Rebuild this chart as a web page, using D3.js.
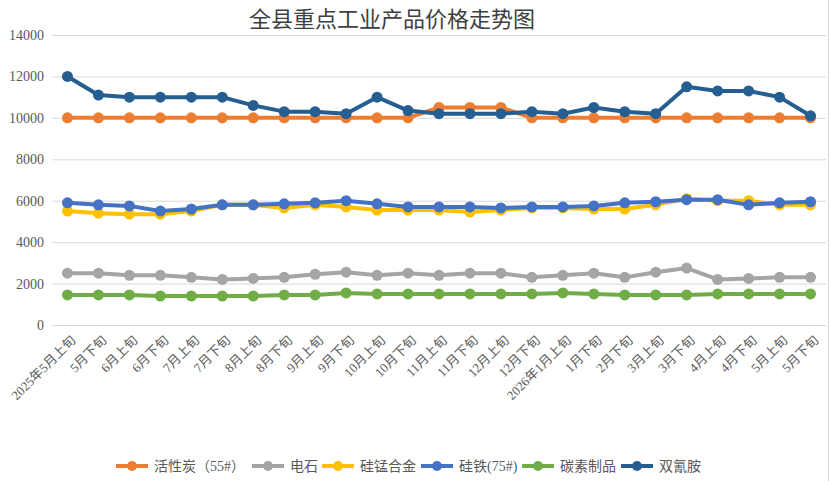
<!DOCTYPE html>
<html>
<head>
<meta charset="utf-8">
<script src="https://cdn.jsdelivr.net/npm/d3@7"></script>
<style>
  body { margin: 0; background: #fff; }
  svg { display: block; }
  .tick text { fill: #595959; }
</style>
</head>
<body>
<svg class="chart" width="830" height="481"></svg>
<script>
const categories = ["2025年5月上旬", "5月下旬", "6月上旬", "6月下旬", "7月上旬", "7月下旬", "8月上旬", "8月下旬",
    "9月上旬", "9月下旬", "10月上旬", "10月下旬", "11月上旬", "11月下旬", "12月上旬", "12月下旬",
    "2026年1月上旬", "1月下旬", "2月下旬", "3月上旬", "3月下旬", "4月上旬", "4月下旬", "5月上旬", "5月下旬"];

const activatedCarbon = [10000, 10000, 10000, 10000, 10000, 10000, 10000, 10000, 10000, 10000, 10000, 10000,
    10500, 10500, 10500, 10000, 10000, 10000, 10000, 10000, 10000, 10000, 10000, 10000, 10000];
const carbide = [2500, 2500, 2400, 2400, 2300, 2200, 2250, 2300, 2450, 2550, 2400, 2500,
    2400, 2500, 2500, 2300, 2400, 2500, 2300, 2550, 2750, 2200, 2250, 2300, 2300];
const silicoManganese = [5500, 5400, 5350, 5350, 5500, 5800, 5800, 5650, 5800, 5700, 5550, 5550,
    5550, 5450, 5550, 5650, 5650, 5600, 5600, 5800, 6100, 6000, 6000, 5800, 5800];
const ferroSilicon = [5900, 5800, 5750, 5500, 5600, 5800, 5800, 5850, 5900, 6000, 5850, 5700,
    5700, 5700, 5650, 5700, 5700, 5750, 5900, 5950, 6050, 6050, 5800, 5900, 5950];
const carbonProducts = [1450, 1450, 1450, 1400, 1400, 1400, 1400, 1450, 1450, 1550, 1500, 1500,
    1500, 1500, 1500, 1500, 1550, 1500, 1450, 1450, 1450, 1500, 1500, 1500, 1500];
const dicyandiamide = [12000, 11100, 11000, 11000, 11000, 11000, 10600, 10300, 10300, 10200, 11000, 10350,
    10200, 10200, 10200, 10300, 10200, 10500, 10300, 10200, 11500, 11300, 11300, 11000, 10100];

const yTicks = [0, 2000, 4000, 6000, 8000, 10000, 12000, 14000];

const series = [
    {name: "活性炭（55#）", values: activatedCarbon, color: "#ED7D31"},
    {name: "电石", values: carbide, color: "#A5A5A5"},
    {name: "硅锰合金", values: silicoManganese, color: "#FFC000"},
    {name: "硅铁(75#)", values: ferroSilicon, color: "#4472C4"},
    {name: "碳素制品", values: carbonProducts, color: "#70AD47"},
    {name: "双氰胺", values: dicyandiamide, color: "#255E91"}
];

const numFont = "'Liberation Serif', 'Noto Sans CJK SC', serif";
const cjkFont = "'Noto Sans CJK SC', sans-serif";

let svg = d3.select("svg.chart"),
    margin = {top: 35, left: 52, right: 4},
    width = +svg.attr("width"),
    height = +svg.attr("height"),
    plotBottom = 325;

// category labels repeat (5月上旬 / 5月下旬), so the band scale runs on indices
let x = d3.scaleBand()
    .domain(d3.range(categories.length))
    .range([margin.left, width - margin.right]);

let y = d3.scaleLinear()
    .domain([0, 14000])
    .range([plotBottom, margin.top]);

// right border of chart area
svg.append("line")
    .attr("x1", width - 1.5).attr("x2", width - 1.5)
    .attr("y1", 0).attr("y2", height)
    .style("stroke", "#d9d9d9");

// title
svg.append("text")
    .attr("x", 392)
    .attr("y", 27)
    .style("text-anchor", "middle")
    .style("font-family", cjkFont)
    .style("font-size", "22px")
    .style("fill", "#404040")
    .text("全县重点工业产品价格走势图");

// y axis with grid lines
let yAxis = svg.append("g")
    .attr("class", "y-axis")
    .attr("transform", "translate(" + margin.left + ",0)")
    .call(d3.axisLeft(y).tickValues(yTicks).tickSize(-(width - margin.right - margin.left)).tickPadding(8).tickFormat(d3.format("d")));
yAxis.select(".domain").remove();
yAxis.selectAll(".tick line").style("stroke", "#d9d9d9");
yAxis.selectAll(".tick text")
    .style("font-family", numFont)
    .style("font-size", "14px");

// x axis labels (rotated)
let xAxis = svg.append("g")
    .attr("class", "x-axis")
    .attr("transform", "translate(0," + plotBottom + ")")
    .call(d3.axisBottom(x).tickSize(0).tickPadding(0).tickFormat(i => categories[i]));
xAxis.select(".domain").remove();
xAxis.selectAll(".tick text")
    .style("font-family", numFont)
    .style("font-size", "13px")
    .style("text-anchor", "end")
    .attr("dy", null)
    .attr("y", 0)
    .attr("transform", "translate(9,16) rotate(-45)");

let cx = (i) => x(i) + x.bandwidth() / 2;

let line = d3.line()
    .x((d, i) => cx(i))
    .y(d => y(d));

// lines and markers, later series on top
for (let s of series) {
    let g = svg.append("g");
    g.append("path")
        .datum(s.values)
        .attr("d", line)
        .style("fill", "none")
        .style("stroke", s.color)
        .style("stroke-width", 4)
        .style("stroke-linejoin", "round");
    g.selectAll("circle")
        .data(s.values)
        .enter().append("circle")
        .attr("cx", (d, i) => cx(i))
        .attr("cy", d => y(d))
        .attr("r", 5.5)
        .style("fill", s.color);
}

// legend
let legendX = [116, 252, 322, 421, 522, 621];
let legend = svg.append("g").attr("class", "legend");
series.forEach((s, i) => {
    let lg = legend.append("g").attr("transform", "translate(" + legendX[i] + ",466)");
    lg.append("line")
        .attr("x1", 0).attr("x2", 32)
        .style("stroke", s.color)
        .style("stroke-width", 4);
    lg.append("circle")
        .attr("cx", 16).attr("r", 5)
        .style("fill", s.color);
    lg.append("text")
        .attr("x", 38)
        .attr("y", 5)
        .style("font-family", numFont)
        .style("font-size", "14px")
        .style("fill", "#595959")
        .text(s.name);
});
</script>
</body>
</html>
